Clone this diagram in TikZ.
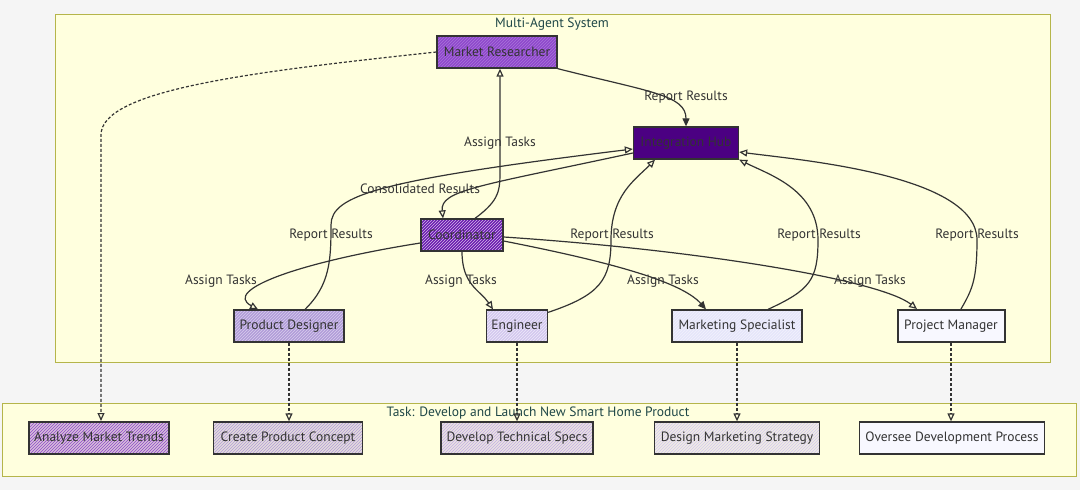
\documentclass[tikz,border=0pt]{standalone}
\usepackage{fontspec}
\setmainfont{PT Sans}
\usetikzlibrary{arrows.meta}
\usetikzlibrary{patterns}

\definecolor{bgcol}{HTML}{F5F5F5}
\definecolor{clusterfill}{HTML}{FFFFDE}
\definecolor{clusterline}{HTML}{B5B54A}
\definecolor{titlecol}{HTML}{1F4747}
\definecolor{linecol}{HTML}{333333}
\definecolor{mrcol}{HTML}{8E48CC}
\definecolor{hubcol}{HTML}{4B0082}
\definecolor{coordcol}{HTML}{6A1BB0}
\definecolor{pdcol}{HTML}{B19CD9}
\definecolor{engcol}{HTML}{D3C8EF}
\definecolor{mscol}{HTML}{E6E6FA}
\definecolor{pmcol}{HTML}{F8F8FF}

\tikzset{
agent/.style={draw=linecol, line width=1.3pt, minimum height=32pt, inner xsep=5pt, font=\fontsize{13.5}{15}\selectfont, text=linecol},
hatched/.style 2 args={preaction={fill=#1}, preaction={pattern=north east lines, pattern color=#2}},
task/.style={agent, hatched={#1!35!clusterfill}{#1}},
edge/.style={draw=linecol, line width=1.2pt},
open tip/.style={-{Triangle[open, length=8pt, width=7pt]}},
full tip/.style={-{Triangle[length=8pt, width=7pt]}},
lbl/.style={font=\fontsize{13.5}{15}\selectfont, text=linecol, inner sep=1pt},
}

\begin{document}
\begin{tikzpicture} [x=1pt, y=1pt]
\fill[bgcol] (0,0) rectangle (1080,-490);
\useasboundingbox (0,0) rectangle (1080,-490);

% the two clusters
\draw[clusterline, fill=clusterfill, line width=1pt] (55,-14) rectangle (1050,-362);
\node[text=titlecol, font=\fontsize{13.5}{15}\selectfont] (systitle) at (552,-24) {Multi-Agent System};
\draw[clusterline, fill=clusterfill, line width=1pt] (2,-403) rectangle (1076,-476);
\node[text=titlecol, font=\fontsize{13.5}{15}\selectfont] (tasktitle) at (538,-413) {Task: Develop and Launch New Smart Home Product};

% agents
\node[agent, hatched={mrcol}{mrcol!75!white}, minimum width=120pt] (mr) at (497,-52) {Market Researcher};
\node[agent, fill=hubcol, minimum width=105pt] (hub) at (686,-143) {Integration Hub};
\node[agent, hatched={coordcol}{white!70!coordcol}, minimum width=82pt] (coord) at (462,-235) {Coordinator};
\node[agent, hatched={pdcol}{pdcol!50!white}, minimum width=110pt] (pd) at (289,-326) {Product Designer};
\node[agent, hatched={engcol}{engcol!40!white}, minimum width=61pt] (eng) at (517,-326) {Engineer};
\node[agent, hatched={mscol}{mscol!50!white}, minimum width=130pt] (ms) at (737,-326) {Marketing Specialist};
\node[agent, fill=pmcol, line width=2pt, minimum width=107pt] (pm) at (951,-326) {Project Manager};

% tasks
\node[task=mrcol, minimum width=138pt, line width=2pt] (amt) at (99,-438) {Analyze Market Trends};
\node[task=pdcol, minimum width=149pt] (cpc) at (288,-438) {Create Product Concept};
\node[task=engcol!85!coordcol, minimum width=152pt] (dts) at (517,-438) {Develop Technical Specs};
\node[task=mscol!85!coordcol, minimum width=165pt] (dms) at (737,-438) {Design Marketing Strategy};
\node[agent, fill=pmcol, minimum width=185pt] (odp) at (952,-438) {Oversee Development Process};

% coordinator and hub
\draw[edge, open tip] ([xshift=13pt]coord.north) .. controls (500,-200) and (500,-190) .. (500,-170) -- ([xshift=3pt]mr.south);
\node[lbl] (asgmr) at (500,-143) {Assign Tasks};
\draw[edge, full tip] (mr.south east) .. controls (650,-92) and (686,-95) .. (hub.north);
\node[lbl] (repmr) at (686,-97) {Report Results};
\draw[edge, open tip] ([yshift=-10pt]hub.west) .. controls (480,-186) and (440,-190) .. ([xshift=-19pt]coord.north);
\node[lbl] (cons) at (420,-189) {Consolidated Results};

% assign tasks
\draw[edge, open tip] ([yshift=-8pt]coord.west) .. controls (300,-262) and (222,-290) .. ([xshift=-31pt]pd.north);
\node[lbl] (asgpd) at (221,-281) {Assign Tasks};
\draw[edge, open tip] (coord.south) .. controls (462,-285) and (480,-290) .. ([xshift=-24pt]eng.north);
\node[lbl] (asgeng) at (461,-281) {Assign Tasks};
\draw[edge, full tip] ([yshift=-6pt]coord.east) .. controls (600,-260) and (680,-280) .. ([xshift=-31pt]ms.north);
\node[lbl] (asgms) at (663,-281) {Assign Tasks};
\draw[edge, open tip] ([yshift=-2pt]coord.east) .. controls (700,-250) and (880,-280) .. ([xshift=-34pt]pm.north);
\node[lbl] (asgpm) at (870,-281) {Assign Tasks};

% report results
\draw[edge, open tip] ([xshift=16pt]pd.north) .. controls (330,-285) and (331,-260) .. (331,-225) .. controls (331,-195) and (380,-180) .. ([yshift=-6pt]hub.west);
\node[lbl] (reppd) at (331,-235) {Report Results};
\draw[edge, open tip] ([yshift=-3pt]eng.north east) .. controls (600,-295) and (611,-280) .. (611,-240) .. controls (611,-195) and (635,-180) .. ([xshift=-31pt]hub.south);
\node[lbl] (repeng) at (612,-235) {Report Results};
\draw[edge, open tip] ([xshift=31pt]ms.north) .. controls (810,-290) and (818,-280) .. (818,-240) .. controls (818,-190) and (770,-175) .. (hub.south east);
\node[lbl] (repms) at (819,-235) {Report Results};
\draw[edge, open tip] ([xshift=10pt]pm.north) .. controls (972,-290) and (977,-280) .. (977,-240) .. controls (977,-175) and (800,-160) .. ([yshift=-9pt]hub.east);
\node[lbl] (reppm) at (977,-235) {Report Results};

% hand over to tasks
\draw[edge, dashed, dash pattern=on 3pt off 2pt, open tip] (mr.west) .. controls (250,-72) and (101,-90) .. (101,-135) -- ([xshift=2pt]amt.north);
\foreach \a/\b in {pd/cpc, eng/dts, ms/dms, pm/odp}
 \draw[edge, dashed, dash pattern=on 3pt off 2pt, open tip] (\a.south) -- (\a.south |- \b.north);

\end{tikzpicture}
\end{document}
